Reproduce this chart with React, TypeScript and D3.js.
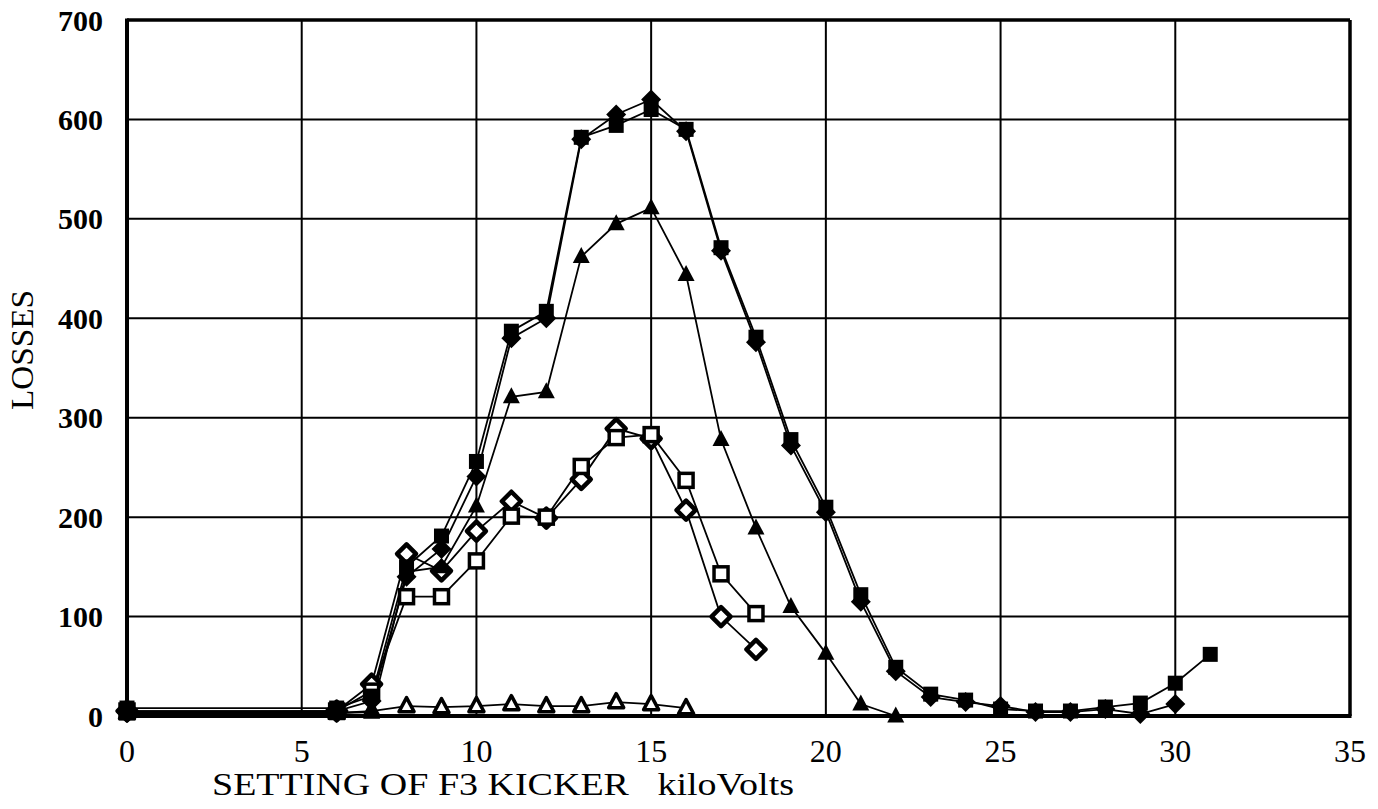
import React from "react";
import * as d3 from "d3";

const W = 1378;
const H = 809;
const M = { left: 127, right: 28, top: 20, bottom: 93 };

const xTicks = [0, 5, 10, 15, 20, 25, 30, 35];
const yTicks = [0, 100, 200, 300, 400, 500, 600, 700];

const xFilledSquare = [0, 6, 7, 8, 9, 10, 11, 12, 13, 14, 15, 16, 17, 18, 19, 20, 21, 22, 23, 24, 25, 26, 27, 28, 29, 30, 31];
const yFilledSquare = [8, 8, 20, 150, 181, 256, 387, 407, 582, 594, 610, 590, 471, 381, 278, 210, 122, 49, 22, 16, 7, 5, 5, 9, 13, 33, 62];

const xFilledDiamond = [0, 6, 7, 8, 9, 10, 11, 12, 13, 14, 15, 16, 17, 18, 19, 20, 21, 22, 23, 24, 25, 26, 27, 28, 29, 30];
const yFilledDiamond = [3, 5, 15, 140, 168, 241, 380, 400, 580, 605, 620, 588, 468, 376, 272, 205, 115, 45, 19, 14, 10, 4, 4, 7, 2, 12];

const xFilledTriangle = [0, 6, 7, 8, 9, 10, 11, 12, 13, 14, 15, 16, 17, 18, 19, 20, 21, 22];
const yFilledTriangle = [2, 3, 4, 145, 150, 211, 321, 326, 462, 495, 511, 444, 278, 189, 110, 63, 12, 0];

const xOpenSquare = [0, 6, 7, 8, 9, 10, 11, 12, 13, 14, 15, 16, 17, 18];
const yOpenSquare = [5, 5, 25, 120, 120, 156, 201, 200, 251, 280, 283, 237, 143, 103];

const xOpenDiamond = [0, 6, 7, 8, 9, 10, 11, 12, 13, 14, 15, 16, 17, 18];
const yOpenDiamond = [5, 5, 32, 163, 146, 186, 216, 199, 238, 289, 279, 207, 100, 67];

const xOpenTriangle = [0, 6, 7, 8, 9, 10, 11, 12, 13, 14, 15, 16];
const yOpenTriangle = [3, 3, 5, 10, 9, 10, 12, 10, 10, 14, 12, 8];

type Kind = "fsq" | "fdi" | "ftr" | "osq" | "odi" | "otr";

const seriesList: { kind: Kind; xs: number[]; ys: number[] }[] = [
  { kind: "otr", xs: xOpenTriangle, ys: yOpenTriangle },
  { kind: "odi", xs: xOpenDiamond, ys: yOpenDiamond },
  { kind: "osq", xs: xOpenSquare, ys: yOpenSquare },
  { kind: "ftr", xs: xFilledTriangle, ys: yFilledTriangle },
  { kind: "fdi", xs: xFilledDiamond, ys: yFilledDiamond },
  { kind: "fsq", xs: xFilledSquare, ys: yFilledSquare },
];

function marker(kind: Kind, cx: number, cy: number, key: string) {
  switch (kind) {
    case "fsq": {
      const s = 15;
      return <rect key={key} x={cx - s / 2} y={cy - s / 2} width={s} height={s} fill="#000" />;
    }
    case "osq": {
      const s = 14;
      return <rect key={key} x={cx - s / 2} y={cy - s / 2} width={s} height={s} fill="#fff" stroke="#000" strokeWidth={3.5} />;
    }
    case "fdi": {
      const r = 10;
      return <path key={key} d={`M${cx},${cy - r}L${cx + r},${cy}L${cx},${cy + r}L${cx - r},${cy}Z`} fill="#000" />;
    }
    case "odi": {
      const r = 9.5;
      return <path key={key} d={`M${cx},${cy - r}L${cx + r},${cy}L${cx},${cy + r}L${cx - r},${cy}Z`} fill="#fff" stroke="#000" strokeWidth={4.5} strokeLinejoin="round" />;
    }
    case "ftr": {
      const h = 16, w = 17;
      return <path key={key} d={`M${cx},${cy - h * 0.6}L${cx + w / 2},${cy + h * 0.4}L${cx - w / 2},${cy + h * 0.4}Z`} fill="#000" />;
    }
    case "otr": {
      const h = 14, w = 15;
      return <path key={key} d={`M${cx},${cy - h * 0.6}L${cx + w / 2},${cy + h * 0.4}L${cx - w / 2},${cy + h * 0.4}Z`} fill="#fff" stroke="#000" strokeWidth={3.5} strokeLinejoin="round" />;
    }
  }
}

export default function App() {
  const x = d3.scaleLinear().domain([0, 35]).range([M.left, W - M.right]);
  const y = d3.scaleLinear().domain([0, 700]).range([H - M.bottom, M.top]);
  const line = d3
    .line<[number, number]>()
    .x((d) => x(d[0]))
    .y((d) => y(d[1]));

  const x0 = x(0), x1 = x(35), y0 = y(0), y1 = y(700);
  const font = "'Liberation Serif', 'Times New Roman', serif";

  return (
    <svg width={W} height={H} style={{ position: "absolute", left: 0, top: 0, background: "#fff" }} fontFamily={font}>
      <rect x={0} y={0} width={W} height={H} fill="#fff" />
      {/* grid */}
      {yTicks.slice(1, -1).map((t) => (
        <line key={"gy" + t} x1={x0} x2={x1} y1={y(t)} y2={y(t)} stroke="#000" strokeWidth={2} />
      ))}
      {xTicks.slice(1, -1).map((t) => (
        <line key={"gx" + t} x1={x(t)} x2={x(t)} y1={y0} y2={y1} stroke="#000" strokeWidth={2} />
      ))}
      {/* frame */}
      <line x1={x0} x2={x1} y1={y1} y2={y1} stroke="#000" strokeWidth={3.5} />
      <line x1={x1} x2={x1} y1={y1} y2={y0} stroke="#000" strokeWidth={3.5} />
      <line x1={x0} x2={x0} y1={y1 - 1.5} y2={y0 + 2} stroke="#000" strokeWidth={4} />
      <line x1={x0 - 2} x2={x1 + 1.5} y1={y0} y2={y0} stroke="#000" strokeWidth={4} />
      {/* lines */}
      {seriesList.map((s, i) => (
        <path
          key={"l" + i}
          d={line(s.xs.map((v, j) => [v, s.ys[j]] as [number, number])) || ""}
          fill="none"
          stroke="#000"
          strokeWidth={1.8}
        />
      ))}
      {/* markers */}
      {seriesList.map((s, i) => (
        <g key={"m" + i}>{s.xs.map((v, j) => marker(s.kind, x(v), y(s.ys[j]), `${i}-${j}`))}</g>
      ))}
      {/* y tick labels */}
      {yTicks.map((t) => (
        <text key={"yt" + t} x={x0 - 24} y={y(t)} dy="0.35em" textAnchor="end" fontSize={30} fontWeight="bold" fill="#000">
          {t}
        </text>
      ))}
      {/* x tick labels */}
      {xTicks.map((t) => (
        <text key={"xt" + t} x={x(t)} y={y0 + 35} dy="0.35em" textAnchor="middle" fontSize={32} fill="#000">
          {t}
        </text>
      ))}
      <text x={212} y={795} textLength={582} lengthAdjust="spacingAndGlyphs" fontSize={32} fill="#000">
        SETTING OF F3 KICKER{"\u00a0\u00a0\u00a0"}kiloVolts
      </text>
      <text transform={`translate(33, 350) rotate(-90)`} textAnchor="middle" fontSize={31} textLength={120} lengthAdjust="spacingAndGlyphs" fill="#000">
        LOSSES
      </text>
    </svg>
  );
}
